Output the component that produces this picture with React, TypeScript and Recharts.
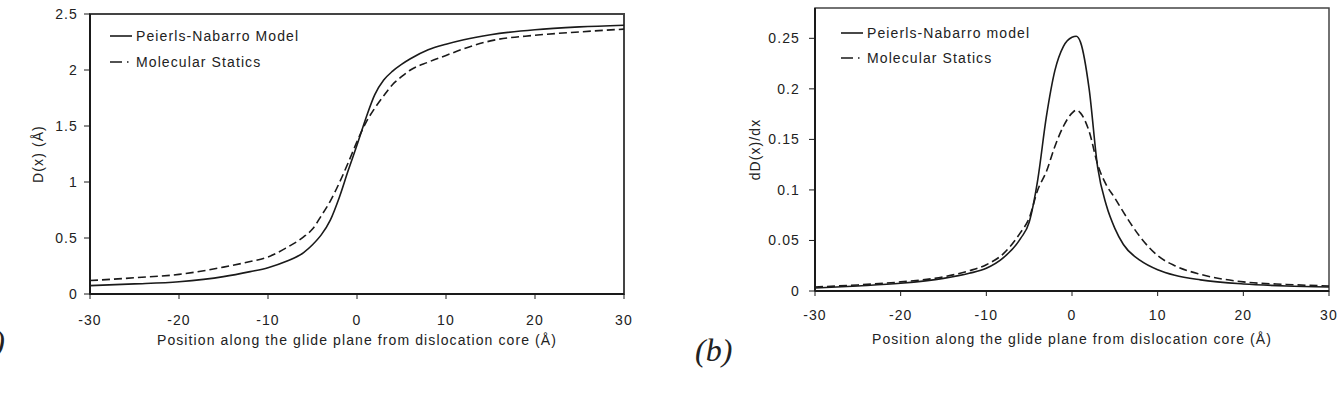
import { LineChart, Line, XAxis, YAxis, ReferenceArea } from "recharts";

// (a) disregistry profile D(x)
const positionsA = [-30, -25, -20, -15, -12, -10, -8, -6, -5, -4, -3, -2, -1, 0, 1, 2, 3, 4, 5, 6, 8, 10, 12, 15, 20, 25, 30];
const pnDisplacement = [0.075, 0.09, 0.11, 0.155, 0.2, 0.235, 0.29, 0.37, 0.44, 0.53, 0.66, 0.86, 1.1, 1.33, 1.57, 1.78, 1.91, 1.99, 2.05, 2.1, 2.18, 2.23, 2.27, 2.315, 2.36, 2.385, 2.4];
const msDisplacement = [0.12, 0.145, 0.175, 0.24, 0.29, 0.33, 0.41, 0.51, 0.58, 0.7, 0.83, 0.99, 1.17, 1.36, 1.53, 1.66, 1.77, 1.87, 1.94, 2.0, 2.07, 2.13, 2.19, 2.26, 2.31, 2.34, 2.365];

// (b) dislocation density dD(x)/dx
const positionsB = [-30, -25, -20, -15, -12, -10, -8, -6, -5, -4, -3, -2, -1, 0, 0.5, 1, 2, 3, 4, 5, 6, 8, 10, 12, 15, 20, 25, 30];
const pnDensity = [0.003, 0.005, 0.0076, 0.0125, 0.0175, 0.0225, 0.033, 0.052, 0.068, 0.11, 0.172, 0.218, 0.242, 0.251, 0.252, 0.246, 0.2, 0.122, 0.085, 0.062, 0.046, 0.03, 0.021, 0.0155, 0.011, 0.007, 0.005, 0.004];
const msDensity = [0.004, 0.006, 0.009, 0.014, 0.02, 0.026, 0.037, 0.058, 0.072, 0.1, 0.118, 0.143, 0.163, 0.176, 0.179, 0.176, 0.158, 0.125, 0.105, 0.092, 0.078, 0.053, 0.035, 0.025, 0.0165, 0.009, 0.0065, 0.005];

const xTicks = [-30, -20, -10, 0, 10, 20, 30];
const dTicks = [0, 0.5, 1, 1.5, 2, 2.5];
const densityTicks = [0, 0.05, 0.1, 0.15, 0.2, 0.25];

const X_LABEL = "Position along the glide plane from dislocation core (Å)";

const INK = "#1a1a1a";
const FRAME = "#444";
const TEXT = "#222";
const FONT = 14;

const dataA = positionsA.map((x, i) => ({ x, pn: pnDisplacement[i], ms: msDisplacement[i] }));
const dataB = positionsB.map((x, i) => ({ x, pn: pnDensity[i], ms: msDensity[i] }));

function LegendBox({ pnName, rowHeight, left, top }: { pnName: string; rowHeight: number; left: number; top: number }) {
  const rows = [
    { name: pnName, dash: undefined as string | undefined },
    { name: "Molecular Statics", dash: "12 5 1.5 20" },
  ];
  return (
    <div style={{ position: "absolute", left, top }}>
      {rows.map((r) => (
        <div key={r.name} style={{ display: "flex", alignItems: "center", height: rowHeight }}>
          <svg width={22} height={6} style={{ marginRight: 4 }}>
            <line x1={0} x2={22} y1={3} y2={3} stroke={INK} strokeWidth={1.6} strokeDasharray={r.dash} />
          </svg>
          <span style={{ fontSize: FONT, color: TEXT, whiteSpace: "nowrap" }}>{r.name}</span>
        </div>
      ))}
    </div>
  );
}

export default function App() {
  const tick = { fontSize: FONT, fill: TEXT };
  return (
    <div
      style={{
        position: "absolute",
        left: 0,
        top: 0,
        width: 1340,
        height: 395,
        background: "#fff",
        fontFamily: "'Liberation Sans', Arial, sans-serif",
        letterSpacing: "1.1px",
      }}
    >
      <div style={{ position: "absolute", left: 0, top: 0 }}>
        <LineChart width={672} height={395} data={dataA} margin={{ top: 14, right: 48, left: 0, bottom: 71 }}>
          <ReferenceArea x1={-30} x2={30} y1={0} y2={2.5} fill="none" stroke={FRAME} strokeWidth={2} />
          <XAxis
            dataKey="x"
            type="number"
            domain={[-30, 30]}
            ticks={xTicks}
            height={30}
            tick={tick}
            tickSize={5}
            tickMargin={16}
            axisLine={{ stroke: INK, strokeWidth: 2 }}
            tickLine={{ stroke: INK }}
            label={{ value: X_LABEL, position: "bottom", offset: 11, fill: TEXT, fontSize: FONT }}
          />
          <YAxis
            type="number"
            domain={[0, 2.5]}
            ticks={dTicks}
            width={90}
            tick={tick}
            tickSize={6}
            tickMargin={6}
            axisLine={{ stroke: INK, strokeWidth: 2 }}
            tickLine={{ stroke: INK }}
            label={{
              value: "D(x) (Å)",
              angle: -90,
              position: "insideLeft",
              offset: 38,
              fill: TEXT,
              fontSize: FONT,
              style: { textAnchor: "middle" },
            }}
          />
          <Line dataKey="pn" type="monotone" stroke={INK} strokeWidth={1.6} dot={false} isAnimationActive={false} />
          <Line dataKey="ms" type="monotone" stroke={INK} strokeWidth={1.6} strokeDasharray="8 4" dot={false} isAnimationActive={false} />
        </LineChart>
      </div>
      <LegendBox pnName="Peierls-Nabarro Model" rowHeight={26} left={110} top={23} />

      <div style={{ position: "absolute", left: 680, top: 0 }}>
        <LineChart width={660} height={395} data={dataB} margin={{ top: 8, right: 11, left: 0, bottom: 74 }}>
          <ReferenceArea x1={-30} x2={30} y1={0} y2={0.28} fill="none" stroke={FRAME} strokeWidth={1.5} />
          <XAxis
            dataKey="x"
            type="number"
            domain={[-30, 30]}
            ticks={xTicks}
            height={30}
            tick={tick}
            tickSize={5}
            tickMargin={14}
            axisLine={{ stroke: INK, strokeWidth: 2 }}
            tickLine={{ stroke: INK }}
            label={{ value: X_LABEL, position: "bottom", offset: 13, fill: TEXT, fontSize: FONT }}
          />
          <YAxis
            type="number"
            domain={[0, 0.28]}
            ticks={densityTicks}
            width={135}
            tick={tick}
            tickSize={6}
            tickMargin={9}
            axisLine={{ stroke: INK, strokeWidth: 2 }}
            tickLine={{ stroke: INK }}
            label={{
              value: "dD(x)/dx",
              angle: -90,
              position: "insideLeft",
              offset: 75,
              fill: TEXT,
              fontSize: FONT,
              style: { textAnchor: "middle" },
            }}
          />
          <Line dataKey="pn" type="monotone" stroke={INK} strokeWidth={1.6} dot={false} isAnimationActive={false} />
          <Line dataKey="ms" type="monotone" stroke={INK} strokeWidth={1.6} strokeDasharray="8 4" dot={false} isAnimationActive={false} />
        </LineChart>
      </div>
      <LegendBox pnName="Peierls-Nabarro model" rowHeight={25} left={841} top={20} />

      {/* panel letters */}
      <svg width={1340} height={395} style={{ position: "absolute", left: 0, top: 0, pointerEvents: "none" }}>
        <g fontFamily="'Liberation Serif', 'Times New Roman', serif" fontStyle="italic" fontSize={32} fill={TEXT} letterSpacing={0}>
          <text x={5} y={352} textAnchor="end">(a)</text>
          <text x={695} y={361}>(b)</text>
        </g>
      </svg>
    </div>
  );
}
